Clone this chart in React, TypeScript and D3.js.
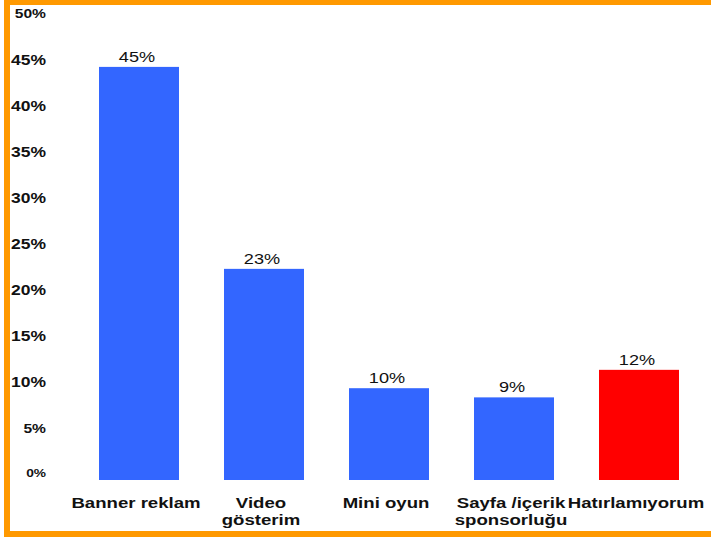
import React from "react";
import * as d3 from "d3";

const categories: string[][] = [
  ["Banner reklam"],
  ["Video", "gösterim"],
  ["Mini oyun"],
  ["Sayfa /içerik", "sponsorluğu"],
  ["Hatırlamıyorum"],
];
const values: number[] = [45, 23, 10, 9, 12];
const valueLabels: string[] = ["45%", "23%", "10%", "9%", "12%"];
const barColors: string[] = ["#3366FF", "#3366FF", "#3366FF", "#3366FF", "#FF0000"];
const ticks: number[] = [0, 5, 10, 15, 20, 25, 30, 35, 40, 45, 50];
const tickLabels: string[] = ticks.map((t) => `${t}%`);

const W = 711;
const H = 538;
const ORANGE = "#FF9900";
const SX = 1.25;

export default function App() {
  const x = d3
    .scaleBand<number>()
    .domain(values.map((_, i) => i))
    .range([76.5, 701.5])
    .paddingInner(0.36)
    .paddingOuter(0.18);
  const y = d3.scaleLinear().domain([0, 50]).range([480, 21]);

  const tickSize = (t: number) => (t === 50 ? 12.5 : t === 0 ? 11 : t === 5 ? 12.5 : 14);

  return (
    <svg
      width={W}
      height={H}
      style={{ position: "absolute", left: 0, top: 0, display: "block", background: "#fff" }}
      fontFamily="Liberation Sans, Arial, sans-serif"
    >
      <rect x={0} y={0} width={W} height={H} fill="#fff" />
      {/* frame */}
      <rect x={4} y={0} width={W - 4} height={5} fill={ORANGE} />
      <rect x={4} y={0} width={6} height={537} fill={ORANGE} />
      <rect x={4} y={531} width={W - 4} height={6} fill={ORANGE} />

      {/* y tick labels */}
      {ticks.map((t, i) => (
        <text
          key={t}
          transform={`translate(46,${y(t) - (t === 0 || t === 50 ? 3 : 1.5)}) scale(${SX},1)`}
          textAnchor="end"
          fontWeight="bold"
          fontSize={tickSize(t)}
          fill="#111"
        >
          {tickLabels[i]}
        </text>
      ))}

      {/* bars */}
      {values.map((v, i) => (
        <rect
          key={i}
          x={x(i)!}
          y={y(v)}
          width={x.bandwidth()}
          height={y(0) - y(v)}
          fill={barColors[i]}
        />
      ))}

      {/* value labels */}
      {values.map((v, i) => (
        <text
          key={i}
          transform={`translate(${x(i)! + x.bandwidth() / 2 - 2},${y(v) - 5}) scale(${SX},1)`}
          textAnchor="middle"
          fontSize={14.5}
          fill="#111"
        >
          {valueLabels[i]}
        </text>
      ))}

      {/* category labels */}
      {categories.map((lines, i) =>
        lines.map((ln, j) => (
          <text
            key={`${i}-${j}`}
            transform={`translate(${x(i)! + x.bandwidth() / 2 - 3},${508 + j * 16.5}) scale(1.2,1)`}
            textAnchor="middle"
            fontWeight="bold"
            fontSize={15.5}
            fill="#111"
          >
            {ln}
          </text>
        ))
      )}
    </svg>
  );
}
